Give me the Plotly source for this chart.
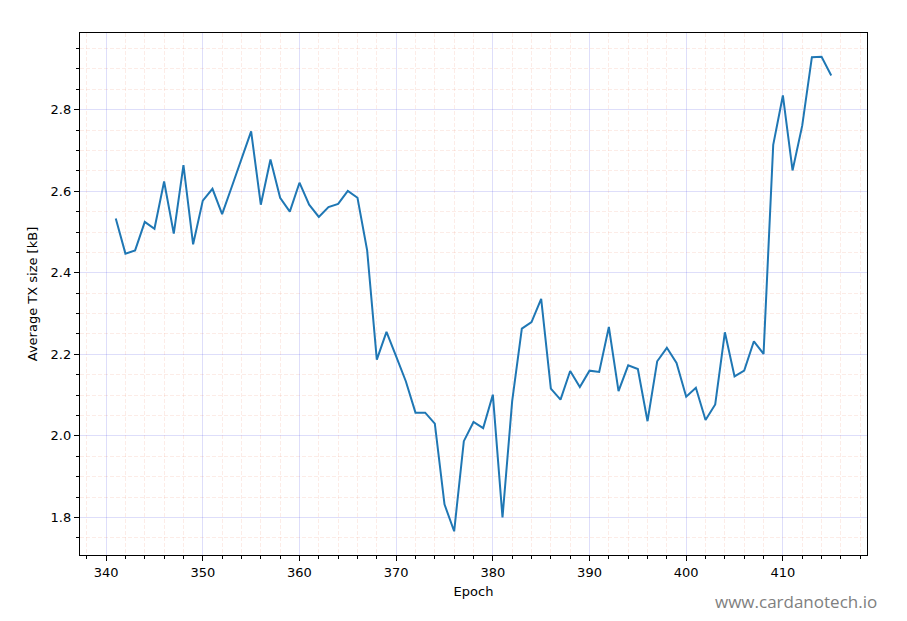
import plotly.graph_objects as go

epochs = list(range(341, 416))
avg_tx_kb = [
    2.533, 2.447, 2.455, 2.525, 2.508, 2.624, 2.496, 2.664, 2.470, 2.577,
    2.606, 2.544, 2.611, 2.678, 2.747, 2.567, 2.678, 2.584, 2.550, 2.621,
    2.567, 2.537, 2.561, 2.569, 2.601, 2.584, 2.455, 2.187, 2.255, 2.195,
    2.134, 2.057, 2.057, 2.030, 1.832, 1.766, 1.987, 2.034, 2.019, 2.101,
    1.800, 2.085, 2.263, 2.279, 2.336, 2.116, 2.089, 2.159, 2.120, 2.160,
    2.157, 2.267, 2.110, 2.173, 2.164, 2.036, 2.183, 2.216, 2.179, 2.096,
    2.118, 2.039, 2.077, 2.254, 2.146, 2.160, 2.232, 2.201, 2.714, 2.835,
    2.651, 2.761, 2.929, 2.930, 2.884,
]
x_title = "Epoch"
y_title = "Average TX size [kB]"
watermark = "www.cardanotech.io"

font = "DejaVu Sans"
major_grid = "rgba(90,90,230,0.2)"
minor_grid = "rgba(240,140,110,0.17)"

fig = go.Figure()
fig.add_trace(go.Scatter(x=epochs, y=avg_tx_kb, mode="lines",
                         line=dict(color="#1f77b4", width=2)))

xmin, xmax = min(epochs), max(epochs)
xpad = (xmax - xmin) * 0.05
ymin, ymax = min(avg_tx_kb), max(avg_tx_kb)
ypad = (ymax - ymin) * 0.05

axis_common = dict(
    showline=True, linecolor="black", linewidth=1.3, mirror=True,
    ticks="outside", ticklen=5, tickwidth=1, tickcolor="black",
    showgrid=True, gridcolor=major_grid, gridwidth=1,
    zeroline=False,
    tickfont=dict(family=font, size=13, color="black"),
)

fig.update_layout(
    width=899, height=613,
    margin=dict(l=72, r=40, t=25, b=66),
    paper_bgcolor="white", plot_bgcolor="white",
    showlegend=False,
    font=dict(family=font, size=13, color="black"),
    xaxis=dict(
        range=[xmin - xpad, xmax + xpad], dtick=10, tick0=0,
        minor=dict(dtick=2, tick0=0, ticks="outside", ticklen=3, tickcolor="black",
                   showgrid=True, gridcolor=minor_grid, griddash="4px,2px", gridwidth=1),
        title=dict(text=x_title, font=dict(family=font, size=13), standoff=8),
        **axis_common,
    ),
    yaxis=dict(
        range=[ymin - ypad, ymax + ypad], dtick=0.2, tick0=0, tickformat=".1f",
        minor=dict(dtick=0.05, tick0=0, ticks="outside", ticklen=3, tickcolor="black",
                   showgrid=True, gridcolor=minor_grid, griddash="4px,2px", gridwidth=1),
        title=dict(text=y_title, font=dict(family=font, size=13), standoff=10),
        **axis_common,
    ),
    annotations=[dict(
        text=watermark, xref="paper", yref="paper", x=1.015, y=-0.064,
        xanchor="right", yanchor="top", showarrow=False,
        font=dict(family="Open Sans", size=17, color="gray"),
    )],
)

fig.write_html("out.html")
